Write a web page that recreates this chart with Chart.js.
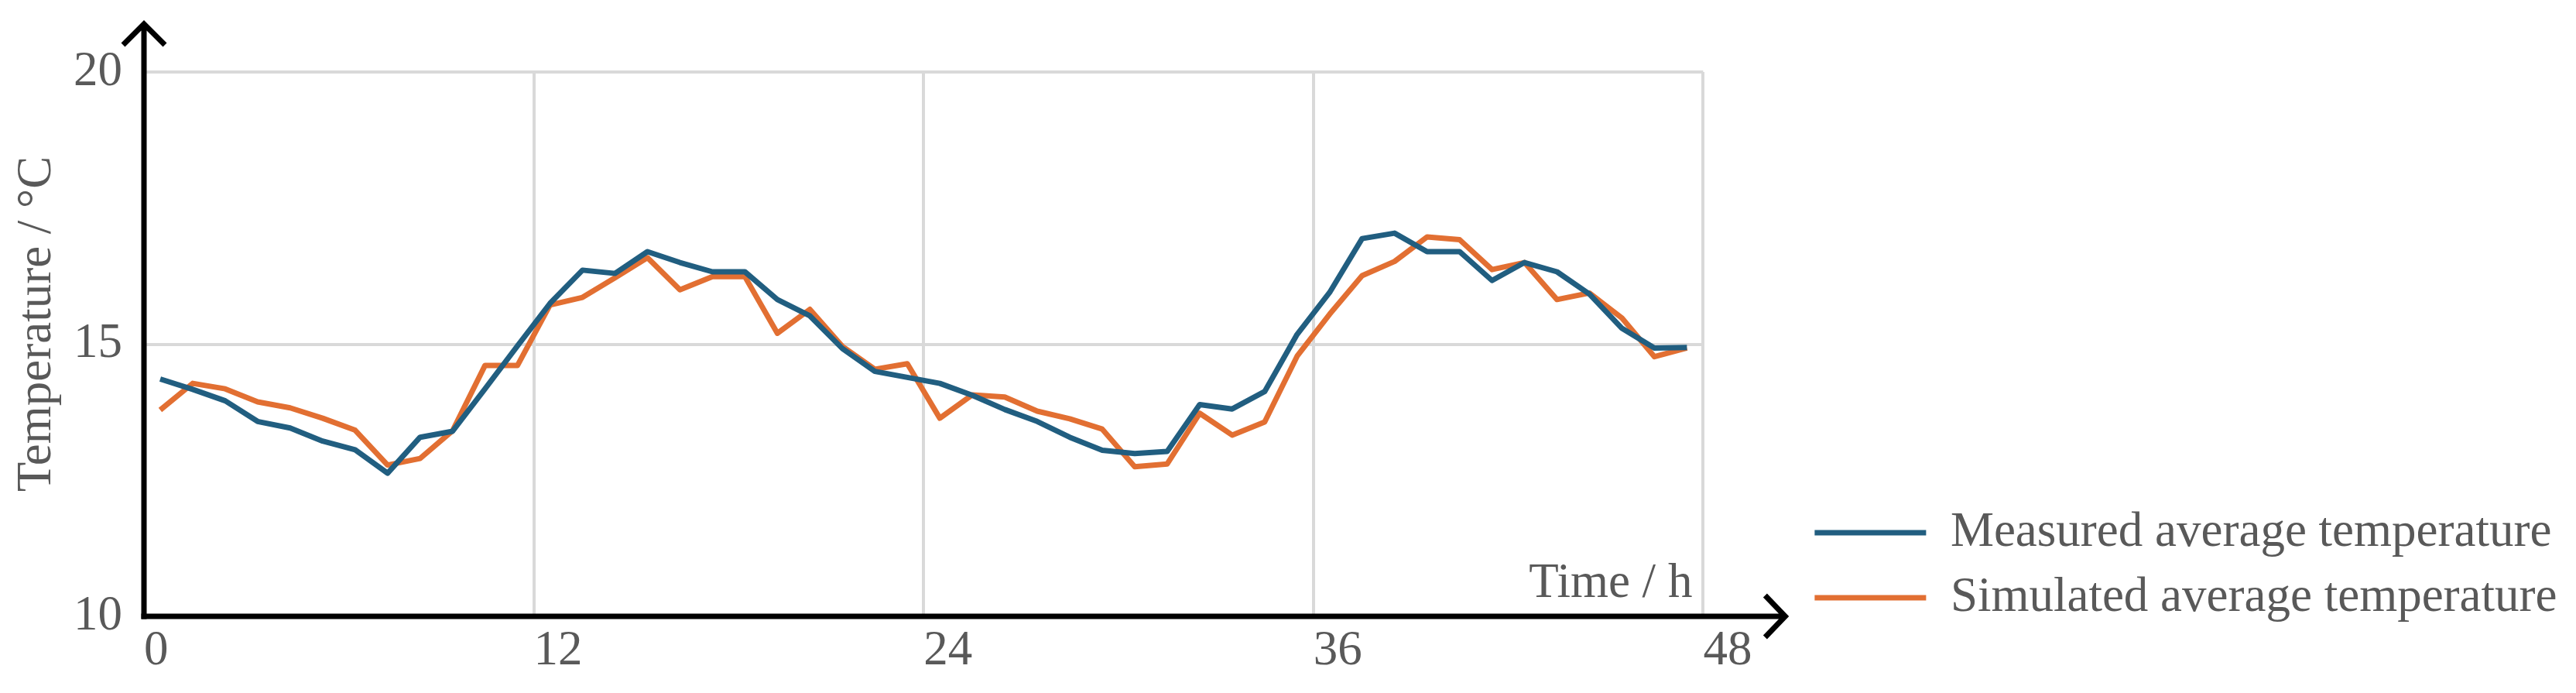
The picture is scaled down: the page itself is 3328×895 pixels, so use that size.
<!DOCTYPE html>
<html>
<head>
<meta charset="utf-8">
<title>Measured and simulated average temperature</title>
<script src="https://cdn.jsdelivr.net/npm/chart.js@4.4.1/dist/chart.umd.min.js"></script>
<style>
    html, body { margin: 0; padding: 0; background: #fff; }
    #wrap { position: relative; width: 3328px; height: 895px; }
</style>
</head>
<body>
<div id="wrap"><canvas id="tempChart"></canvas></div>
<script>
// values (one point per hour, centred in the hour)
const hours = [0.5, 1.5, 2.5, 3.5, 4.5, 5.5, 6.5, 7.5, 8.5, 9.5, 10.5, 11.5,
    12.5, 13.5, 14.5, 15.5, 16.5, 17.5, 18.5, 19.5, 20.5, 21.5, 22.5, 23.5,
    24.5, 25.5, 26.5, 27.5, 28.5, 29.5, 30.5, 31.5, 32.5, 33.5, 34.5, 35.5,
    36.5, 37.5, 38.5, 39.5, 40.5, 41.5, 42.5, 43.5, 44.5, 45.5, 46.5, 47.5];

const measured = [14.36, 14.17, 13.96, 13.58, 13.46, 13.22, 13.06, 12.63, 13.29, 13.40, 14.18, 14.97,
    15.75, 16.36, 16.30, 16.70, 16.50, 16.33, 16.33, 15.82, 15.52, 14.92, 14.50, 14.39,
    14.28, 14.06, 13.80, 13.58, 13.29, 13.05, 12.99, 13.03, 13.89, 13.81, 14.13, 15.18,
    15.95, 16.94, 17.04, 16.70, 16.70, 16.17, 16.50, 16.33, 15.92, 15.29, 14.93, 14.94];

const simulated = [13.79, 14.28, 14.18, 13.94, 13.83, 13.64, 13.42, 12.78, 12.90, 13.41, 14.61, 14.61,
    15.72, 15.86, 16.22, 16.59, 16.00, 16.24, 16.24, 15.20, 15.64, 14.96, 14.54, 14.64,
    13.64, 14.07, 14.03, 13.77, 13.63, 13.44, 12.75, 12.80, 13.73, 13.33, 13.57, 14.78,
    15.55, 16.26, 16.52, 16.97, 16.92, 16.37, 16.50, 15.82, 15.94, 15.48, 14.77, 14.93];

const xTicks = [0, 12, 24, 36, 48];
const yTicks = [10, 15, 20];
const seriesNames = ['Measured average temperature', 'Simulated average temperature'];
const yTitle = 'Temperature / °C';
const xTitle = 'Time / h';

const FONT = '"Liberation Serif", "Times New Roman", serif';
const FONT_SIZE = 63;
const TEXT_GREY = '#595959';
const GRID_GREY = '#d9d9d9';
const BLUE = '#215e80';
const ORANGE = '#e26f32';

function toPoints(values) {
    return values.map((v, i) => ({ x: hours[i], y: v }));
}

// black axes with open arrow heads, plus the two axis captions
const axisDecor = {
    id: 'axisDecor',
    afterDatasetsDraw(chart) {
        const { ctx, chartArea: { left, right, top, bottom } } = chart;
        ctx.save();
        ctx.strokeStyle = '#000';
        ctx.lineWidth = 7;
        ctx.lineJoin = 'miter';

        ctx.beginPath();
        ctx.moveTo(left, bottom + 3.5);
        ctx.lineTo(left, top - 62);
        ctx.moveTo(left - 27, top - 35);
        ctx.lineTo(left, top - 62);
        ctx.lineTo(left + 27, top - 35);
        ctx.stroke();

        ctx.beginPath();
        ctx.moveTo(left - 3.5, bottom);
        ctx.lineTo(right + 106, bottom);
        ctx.moveTo(right + 80, bottom - 27);
        ctx.lineTo(right + 106, bottom);
        ctx.lineTo(right + 80, bottom + 27);
        ctx.stroke();

        ctx.fillStyle = TEXT_GREY;
        ctx.font = `${FONT_SIZE}px ${FONT}`;
        ctx.textAlign = 'right';
        ctx.textBaseline = 'alphabetic';
        ctx.fillText(xTitle, right - 14, bottom - 25);

        ctx.translate(left - 138, (top + bottom) / 2 - 26);
        ctx.rotate(-Math.PI / 2);
        ctx.textAlign = 'center';
        ctx.textBaseline = 'middle';
        ctx.fillText(yTitle, 0, 0);
        ctx.restore();
    }
};

const ctx = document.getElementById('tempChart').getContext('2d');
new Chart(ctx, {
    type: 'line',
    data: {
        datasets: [{
            label: seriesNames[0],
            data: toPoints(measured),
            borderColor: BLUE,
            backgroundColor: BLUE,
            borderWidth: 7,
            pointRadius: 0,
            tension: 0,
            borderJoinStyle: 'round'
        }, {
            label: seriesNames[1],
            data: toPoints(simulated),
            borderColor: ORANGE,
            backgroundColor: ORANGE,
            borderWidth: 7,
            pointRadius: 0,
            tension: 0,
            borderJoinStyle: 'round'
        }]
    },
    options: {
        responsive: true,
        maintainAspectRatio: false,
        animation: false,
        devicePixelRatio: 1,
        layout: { padding: { top: 93, right: 14.5, bottom: 4, left: 0 } },
        scales: {
            x: {
                type: 'linear',
                min: 0,
                max: 48,
                afterBuildTicks: scale => { scale.ticks = xTicks.map(v => ({ value: v })); },
                afterFit: scale => { scale.height = 95; },
                grid: { color: GRID_GREY, lineWidth: 4, drawTicks: false },
                border: { display: false },
                ticks: {
                    align: 'start',
                    padding: 8,
                    color: TEXT_GREY,
                    font: { family: FONT, size: FONT_SIZE }
                }
            },
            y: {
                type: 'linear',
                min: 10,
                max: 20,
                afterBuildTicks: scale => { scale.ticks = yTicks.map(v => ({ value: v })); },
                afterFit: scale => { scale.width = 186; },
                grid: { color: GRID_GREY, lineWidth: 4, drawTicks: false },
                border: { display: false },
                ticks: {
                    padding: 28,
                    color: TEXT_GREY,
                    font: { family: FONT, size: FONT_SIZE }
                }
            },
            // empty right-hand axis, only keeps the gap between plot and legend
            gap: {
                type: 'linear',
                axis: 'y',
                position: 'right',
                display: true,
                grid: { display: false },
                border: { display: false },
                ticks: { display: false },
                afterFit: scale => { scale.width = 123; }
            }
        },
        plugins: {
            legend: {
                position: 'right',
                align: 'start',
                maxWidth: 1100,
                // blank title only pushes the two entries down to the x axis
                title: {
                    display: true,
                    text: ' ',
                    font: { size: 10 },
                    padding: { top: 530.5, bottom: 0 }
                },
                labels: {
                    boxWidth: 144,
                    boxHeight: 7,
                    padding: 21,
                    color: TEXT_GREY,
                    font: { family: FONT, size: FONT_SIZE },
                    generateLabels: chart => chart.data.datasets.map((ds, i) => ({
                        text: ds.label,
                        fillStyle: ds.borderColor,
                        strokeStyle: ds.borderColor,
                        lineWidth: 0,
                        hidden: false,
                        datasetIndex: i,
                        fontColor: TEXT_GREY
                    }))
                }
            },
            tooltip: { enabled: false }
        }
    },
    plugins: [axisDecor]
});
</script>
</body>
</html>
